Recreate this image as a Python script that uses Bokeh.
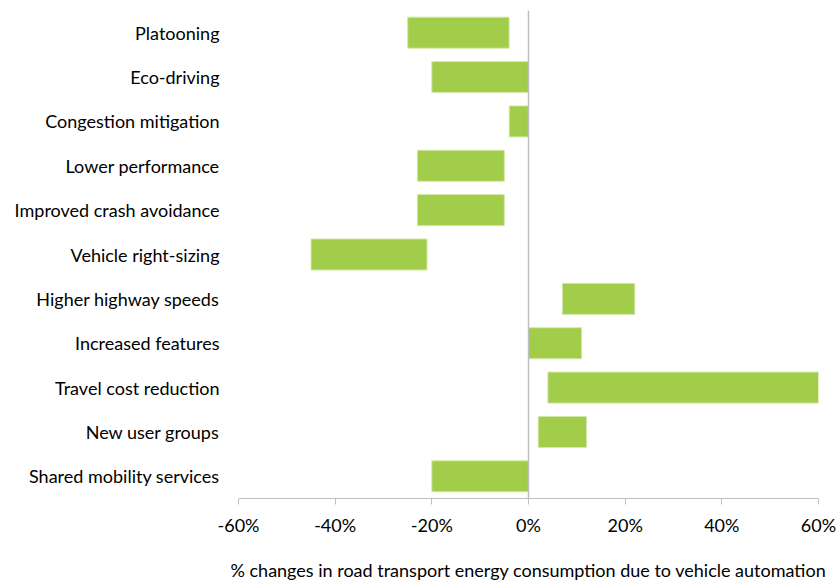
from bokeh.plotting import figure
from bokeh.models import FixedTicker, PrintfTickFormatter, Span, ColumnDataSource, Range1d
from bokeh.embed import file_html
from bokeh.resources import INLINE

categories = ["Platooning", "Eco-driving", "Congestion mitigation", "Lower performance",
              "Improved crash avoidance", "Vehicle right-sizing", "Higher highway speeds",
              "Increased features", "Travel cost reduction", "New user groups",
              "Shared mobility services"]
low = [-25, -20, -4, -23, -23, -45, 7, 0, 4, 2, -20]
high = [-4, 0, 0, -5, -5, -21, 22, 11, 60, 12, 0]
x_ticks = [-60, -40, -20, 0, 20, 40, 60]

FONT = "Lato"
src = ColumnDataSource(dict(cat=categories, low=low, high=high))

p = figure(y_range=list(reversed(categories)), x_range=Range1d(-60, 60),
           frame_width=580, frame_height=488, width=837, height=580,
           min_border_left=238, min_border_right=19, min_border_top=10, min_border_bottom=82,
           output_backend="svg", toolbar_location=None)
p.y_range.range_padding = 0
p.hbar(y="cat", left="low", right="high", height=0.7, source=src,
       fill_color="#a2cd4a", line_color="#d4e9ad", line_width=1)

p.add_layout(Span(location=0, dimension="height", line_color="#bfbfbf", line_width=1.5))

p.xgrid.visible = False
p.ygrid.visible = False
p.outline_line_color = None

xa = p.xaxis[0]
xa.ticker = FixedTicker(ticks=x_ticks)
xa.formatter = PrintfTickFormatter(format="%d%%")
xa.axis_line_color = "#bfbfbf"
xa.major_tick_line_color = "#bfbfbf"
xa.major_tick_out = 6
xa.major_tick_in = 0
xa.minor_tick_out = 0
xa.minor_tick_in = 0
xa.major_label_text_font = FONT
xa.major_label_text_font_size = "18px"
xa.major_label_text_color = "#000000"
xa.major_label_standoff = 9
xa.axis_label = "% changes in road transport energy consumption due to vehicle automation"
xa.axis_label_text_font = FONT
xa.axis_label_text_font_size = "18px"
xa.axis_label_text_font_style = "normal"
xa.axis_label_text_color = "#000000"
xa.axis_label_standoff = 20

ya = p.yaxis[0]
ya.axis_line_color = None
ya.major_tick_line_color = None
ya.minor_tick_line_color = None
ya.major_tick_out = 0
ya.major_label_standoff = 19
ya.major_label_text_font = FONT
ya.major_label_text_font_size = "18px"
ya.major_label_text_color = "#000000"

open("out.html", "w").write(file_html(p, INLINE))
